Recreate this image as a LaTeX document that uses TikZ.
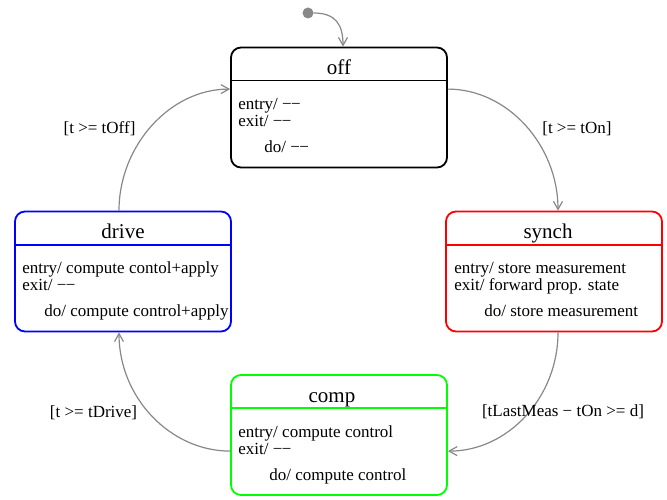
\documentclass[tikz,border=0pt]{standalone}
\usepackage{fontspec}
\setmainfont{Liberation Serif}
\usetikzlibrary{arrows.meta,calc}

\definecolor{linegray}{RGB}{136,136,136}

% empty-action placeholder: two close minus signs
\newcommand{\noact}{−\kern-0.6pt−}

\tikzset{
  statebox/.style={draw, rounded corners=10pt, line width=1.8pt,
    minimum width=216pt, minimum height=120pt, inner sep=0pt},
  divider/.style={line width=1.8pt},
  titletext/.style={font=\fontsize{21}{21}\selectfont, inner sep=0pt, anchor=base},
  bodytext/.style={font=\fontsize{17}{17}\selectfont, inner sep=0pt, anchor=base west},
  guard/.style={font=\fontsize{17}{17}\selectfont, inner sep=0pt},
  trans/.style={draw=linegray, line width=1.2pt,
    -{Straight Barb[length=8pt,width=9pt,line width=1.2pt]}},
}

\begin{document}
\begin{tikzpicture}[x=1pt, y=-1pt]
\useasboundingbox (0,0) rectangle (667,500);

% ---- states ----
\node[statebox, draw=black] (off)   at (339,107.5) {};
\node[statebox, draw=blue]  (drive) at (123,271.5) {};
\node[statebox, draw=red]   (synch) at (554,271.5) {};
\node[statebox, draw=green] (comp)  at (339,435)   {};

% off
\draw[divider, black] ($(off.north west)+(0,34)$) -- ($(off.north east)+(0,34)$);
\node[titletext] (offtitle) at ($(off.north)+(0,28)$) {off};
\node[bodytext] (offentry) at ($(off.north west)+(8,63)$) {entry/ \noact};
\node[bodytext] (offexit)  at ($(off.north west)+(8,80)$) {exit/ \noact};
\node[bodytext] (offdo)    at ($(off.north west)+(34,106)$) {do/ \noact};

% drive
\draw[divider, blue] ($(drive.north west)+(0,34)$) -- ($(drive.north east)+(0,34)$);
\node[titletext] (drivetitle) at ($(drive.north)+(0,28)$) {drive};
\node[bodytext] (driveentry) at ($(drive.north west)+(8,63)$) {entry/ compute contol+apply};
\node[bodytext] (driveexit)  at ($(drive.north west)+(8,80)$) {exit/ \noact};
\node[bodytext] (drivedo)    at ($(drive.north west)+(30,106)$) {do/ compute control+apply};

% synch
\draw[divider, red] ($(synch.north west)+(0,34)$) -- ($(synch.north east)+(0,34)$);
\node[titletext] (synchtitle) at ($(synch.north)+(-6,28)$) {synch};
\node[bodytext] (synchentry) at ($(synch.north west)+(9,63)$) {entry/ store measurement};
\node[bodytext] (synchexit)  at ($(synch.north west)+(9,80)$) {exit/ forward prop. state};
\node[bodytext] (synchdo)    at ($(synch.north west)+(39,106)$) {do/ store measurement};

% comp
\draw[divider, green] ($(comp.north west)+(0,34)$) -- ($(comp.north east)+(0,34)$);
\node[titletext] (comptitle) at ($(comp.north)+(-7,28)$) {comp};
\node[bodytext] (compentry) at ($(comp.north west)+(8,63)$) {entry/ compute control};
\node[bodytext] (compexit)  at ($(comp.north west)+(8,80)$) {exit/ \noact};
\node[bodytext] (compdo)    at ($(comp.north west)+(39,106)$) {do/ compute control};

% ---- initial pseudo-state ----
\node[circle, fill=linegray, minimum size=11pt, inner sep=0pt] (init) at (308,13) {};
\draw[trans] (init.east) .. controls +(22,0) and +(0,-22) .. ($(off.north)+(4,0)$);

% ---- transitions ----
\draw[trans] ($(off.north east)+(0,42.5)$)
  .. controls +(60,0) and +(0,-65) .. ($(synch.north)+(4,0)$)
  node[guard, pos=0.5, xshift=51.5pt, yshift=-3pt] (gon) {[t >= tOn]};

\draw[trans] ($(synch.south)+(4,0)$)
  .. controls +(0,65) and +(60,0) .. ($(comp.north east)+(0,77)$)
  node[guard, pos=0.5, xshift=37.5pt, yshift=4pt] (gmeas) {[tLastMeas − tOn >= d]};

\draw[trans] ($(comp.north west)+(0,77)$)
  .. controls +(-60,0) and +(0,65) .. ($(drive.south)+(-4,0)$)
  node[guard, pos=0.5, xshift=-58.5pt, yshift=3pt] (gdrive) {[t >= tDrive]};

\draw[trans] ($(drive.north)+(-4,0)$)
  .. controls +(0,-65) and +(-60,0) .. ($(off.north west)+(0,42.5)$)
  node[guard, pos=0.5, xshift=-52.5pt, yshift=-3pt] (goff) {[t >= tOff]};

\end{tikzpicture}
\end{document}
